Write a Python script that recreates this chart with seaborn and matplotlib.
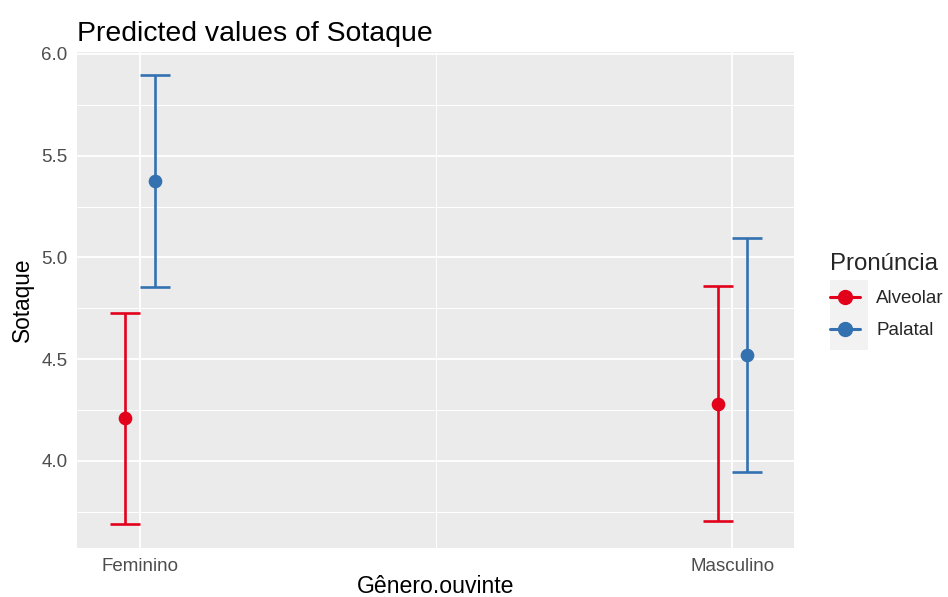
import numpy as np
import pandas as pd
import matplotlib
matplotlib.use("Agg")
import matplotlib.pyplot as plt
from matplotlib.lines import Line2D
from matplotlib.patches import Rectangle
import seaborn as sns

# values
genero = ["Feminino", "Feminino", "Masculino", "Masculino"]
pronuncia = ["Alveolar", "Palatal", "Alveolar", "Palatal"]
sotaque = [4.21, 5.375, 4.28, 4.52]
ci_low = [3.69, 4.855, 3.705, 3.945]
ci_high = [4.725, 5.895, 4.86, 5.095]

categorias = ["Feminino", "Masculino"]
niveis = ["Alveolar", "Palatal"]
cores = {"Alveolar": "#E3001B", "Palatal": "#3371B0"}

df = pd.DataFrame({"Gênero.ouvinte": genero, "Pronúncia": pronuncia,
                   "Sotaque": sotaque, "low": ci_low, "high": ci_high})

sns.set_theme(style="darkgrid")
plt.rcParams["font.family"] = ["Liberation Sans", "DejaVu Sans"]

fig = plt.figure(figsize=(9.48, 5.97), dpi=100)
ax = fig.add_axes([0.0815, 0.082, 0.756, 0.831])
ax.set_facecolor("#EBEBEB")

dodge = 0.05
sns.pointplot(data=df, x="Gênero.ouvinte", y="Sotaque", hue="Pronúncia",
              order=categorias, hue_order=niveis, palette=cores,
              dodge=dodge, linestyle="none", errorbar=None,
              markersize=7.8, ax=ax, zorder=4)

# confidence intervals, same offsets as the pointplot dodge
offsets = np.linspace(0, dodge, len(niveis))
offsets -= offsets.mean()
for i, nivel in enumerate(niveis):
    sub = df[df["Pronúncia"] == nivel]
    xs = [categorias.index(g) + offsets[i] for g in sub["Gênero.ouvinte"]]
    ax.errorbar(xs, sub["Sotaque"],
                yerr=[sub["Sotaque"] - sub["low"], sub["high"] - sub["Sotaque"]],
                fmt="none", ecolor=cores[nivel], elinewidth=1.9,
                capsize=10.8, capthick=1.9, zorder=3)

ax.set_xlim(-0.106, 1.104)
ax.set_ylim(3.572, 6.01)
ax.set_yticks([4.0, 4.5, 5.0, 5.5, 6.0])
ax.set_yticklabels(["4.0", "4.5", "5.0", "5.5", "6.0"])
ax.set_yticks([3.75, 4.25, 4.75, 5.25, 5.75], minor=True)
ax.set_xticks([0.5], minor=True)

ax.grid(which="major", color="white", linewidth=1.3)
ax.grid(which="minor", color="white", linewidth=0.7)
ax.set_axisbelow(True)
for s in ax.spines.values():
    s.set_visible(False)

ax.tick_params(axis="both", which="major", length=4, width=1.1, color="#333333",
               labelcolor="#4D4D4D", labelsize=13.5, pad=3)
ax.tick_params(axis="both", which="minor", length=0)

ax.set_xlabel("Gênero.ouvinte", fontsize=16.6, color="black", labelpad=0)
ax.set_ylabel("Sotaque", fontsize=16.3, color="black", labelpad=5)
ax.set_title("Predicted values of Sotaque", fontsize=20.4, loc="left",
             x=0.0, pad=8, color="black")

# legend, ggplot style
leg = ax.get_legend()
if leg is not None:
    leg.remove()
fig.patches.append(Rectangle((830 / 948, 1 - 350 / 597), 38 / 948, 70 / 597,
                             transform=fig.transFigure, facecolor="#F2F2F2",
                             edgecolor="none", zorder=0))
handles = [Line2D([0], [0], color=cores[n], marker="o", markersize=10,
                  linewidth=2.2) for n in niveis]
fig.legend(handles, niveis, loc="upper left", bbox_to_anchor=(0.862, 0.598),
           frameon=False, fontsize=13.5, title="Pronúncia", title_fontsize=17.3,
           handlelength=1.6, handletextpad=0.85, labelspacing=0.8,
           alignment="left", borderpad=0.2)

fig.savefig("out.png", dpi=100)
